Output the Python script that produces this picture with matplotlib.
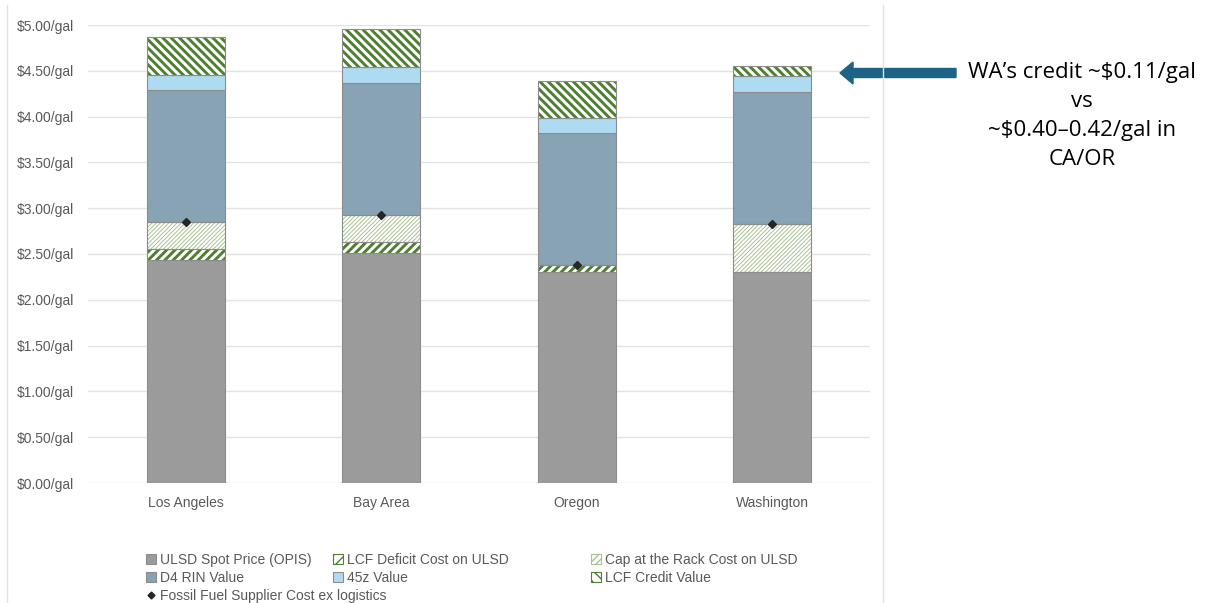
import matplotlib
matplotlib.use("Agg")
import matplotlib.pyplot as plt
import numpy as np
from matplotlib.patches import Patch, FancyArrow
from matplotlib.lines import Line2D

plt.rcParams['font.family'] = ['Liberation Sans', 'DejaVu Sans']

regions = ["Los Angeles", "Bay Area", "Oregon", "Washington"]

ulsd_spot = [2.43, 2.51, 2.30, 2.30]
lcf_deficit = [0.12, 0.12, 0.08, 0.00]
cap_rack = [0.30, 0.30, 0.00, 0.53]
d4_rin = [1.44, 1.44, 1.44, 1.44]
value_45z = [0.16, 0.17, 0.17, 0.17]
lcf_credit = [0.42, 0.42, 0.40, 0.11]
fossil_cost = [2.85, 2.93, 2.38, 2.83]

yticks = [0, 0.5, 1, 1.5, 2, 2.5, 3, 3.5, 4, 4.5, 5]

text_grey = "#595959"
edge_grey = "#8c8c8c"
dark_green = "#4e7f30"
light_green = "#a9c193"

W, H = 1218, 603
fig = plt.figure(figsize=(W / 100, H / 100), dpi=100)
ax = fig.add_axes([88 / W, 1 - 483 / H, (870 - 88) / W, (483 - 25) / H])

x = np.arange(len(regions))
width = 0.4

# stack order: name, values, face, hatch, hatch colour, hatch lw
series = [
    ("ULSD Spot Price (OPIS)", ulsd_spot, "#9b9b9b", None, None, None),
    ("LCF Deficit Cost on ULSD", lcf_deficit, "white", "////", dark_green, 2.1),
    ("Cap at the Rack Cost on ULSD", cap_rack, "white", "////////", light_green, 0.7),
    ("D4 RIN Value", d4_rin, "#88a3b3", None, None, None),
    ("45z Value", value_45z, "#aedbf2", None, None, None),
    ("LCF Credit Value", lcf_credit, "white", "\\\\\\\\", dark_green, 2.1),
]

handles = {}
bottom = np.zeros(len(regions))
for name, vals, face, hatch, hcol, hlw in series:
    vals = np.array(vals)
    if hatch is None:
        ax.bar(x, vals, width, bottom=bottom, color=face, edgecolor=edge_grey,
               linewidth=0.8, zorder=2)
        handles[name] = Patch(facecolor=face, edgecolor=edge_grey, linewidth=0.8)
    else:
        with plt.rc_context({"hatch.linewidth": hlw}):
            bars = ax.bar(x, vals, width, bottom=bottom, color=face, edgecolor=hcol,
                          hatch=hatch, linewidth=0, zorder=2)
            for b in bars:
                if hasattr(b, "set_hatch_linewidth"):
                    b.set_hatch_linewidth(hlw)
            ax.bar(x, vals, width, bottom=bottom, fill=False, edgecolor=edge_grey,
                   linewidth=0.8, zorder=3)
            h = Patch(facecolor=face, edgecolor=hcol, hatch=hatch[:len(hatch) // 2 + 1],
                      linewidth=0.8)
            if hasattr(h, "set_hatch_linewidth"):
                h.set_hatch_linewidth(hlw * 0.7)
            handles[name] = h
    bottom = bottom + vals

ax.plot(x, fossil_cost, ls="none", marker="D", ms=4.5, color="#262626", zorder=4)
handles["Fossil Fuel Supplier Cost ex logistics"] = Line2D(
    [], [], ls="none", marker="D", ms=3.5, color="#262626")

ax.set_xlim(-0.5, 3.5)
ax.set_ylim(0, 5)
ax.set_yticks(yticks)
ax.set_yticklabels([f"${v:.2f}/gal" for v in yticks])
ax.set_xticks(x)
ax.set_xticklabels(regions)
ax.tick_params(axis="y", length=0, pad=10, labelsize=10, labelcolor=text_grey)
ax.tick_params(axis="x", length=0, pad=9, labelsize=10, labelcolor=text_grey)
ax.grid(axis="y", color="#e3e3e3", linewidth=1)
ax.set_axisbelow(True)
for s in ax.spines.values():
    s.set_visible(False)

# legend laid out in three columns like the original
cols = [
    (146, ["ULSD Spot Price (OPIS)", "D4 RIN Value", "Fossil Fuel Supplier Cost ex logistics"]),
    (333, ["LCF Deficit Cost on ULSD", "45z Value"]),
    (591, ["Cap at the Rack Cost on ULSD", "LCF Credit Value"]),
]
for xpix, names in cols:
    fig.legend([handles[n] for n in names], names, loc="upper left",
               bbox_to_anchor=(xpix / W, 1 - 553 / H), frameon=False,
               fontsize=10, labelcolor=text_grey, handlelength=0.75,
               handleheight=0.75, handletextpad=0.25, borderpad=0,
               borderaxespad=0, labelspacing=0.3)

# chart frame edges
for xpix in (7, 883):
    fig.add_artist(Line2D([xpix / W, xpix / W], [0, 1 - 5 / H], color="#e2e2e2",
                          linewidth=1, transform=fig.transFigure))

# callout arrow and text
arrow = FancyArrow(956 / W, 1 - 73 / H, -(956 - 840) / W, 0, width=9 / H,
                   head_width=22 / H, head_length=13 / W,
                   length_includes_head=True, color="#1d6386",
                   transform=fig.transFigure)
fig.patches.append(arrow)
fig.text(1082 / W, 1 - 116 / H,
         "WA\u2019s credit ~$0.11/gal\nvs\n~$0.40\u20130.42/gal in\nCA/OR",
         ha="center", va="center", fontsize=16, linespacing=1.5,
         family=["Open Sans", "DejaVu Sans"], color="black")

fig.savefig("out.png", dpi=100)
